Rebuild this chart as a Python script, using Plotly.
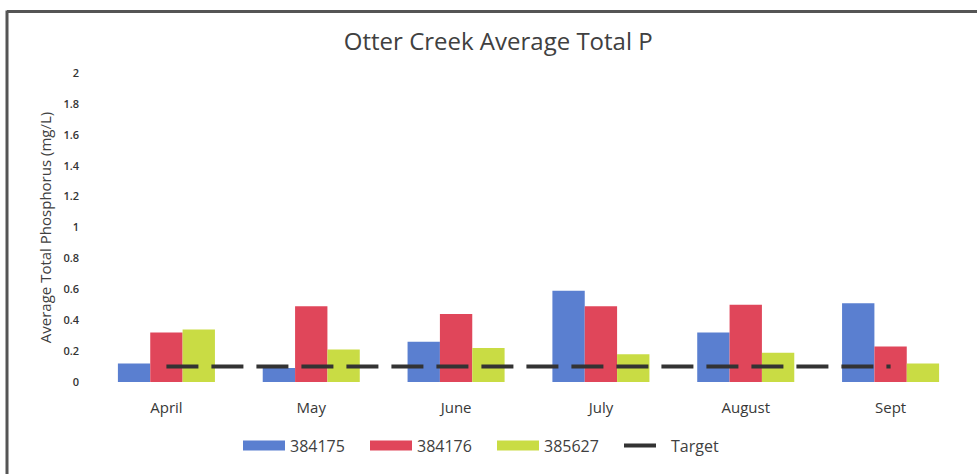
import plotly.graph_objects as go

months = ['April', 'May', 'June', 'July', 'August', 'Sept']
s384175 = [0.12, 0.09, 0.26, 0.59, 0.32, 0.51]
s384176 = [0.32, 0.49, 0.44, 0.49, 0.50, 0.23]
s385627 = [0.34, 0.21, 0.22, 0.18, 0.19, 0.12]
target = [0.1, 0.1, 0.1, 0.1, 0.1, 0.1]

colors = {'384175': '#5a7fd0', '384176': '#e0465a', '385627': '#c9dc44'}
font = 'Open Sans'

L, R, T, B = 94, 14, 73, 80
pw, ph = 977 - L - R, 474 - T - B

fig = go.Figure()
for name, vals in [('384175', s384175), ('384176', s384176), ('385627', s385627)]:
    fig.add_bar(x=months, y=vals, name=name, marker_color=colors[name],
                marker_line_width=0, showlegend=False)
    # wide swatch for the legend, like the original
    fig.add_scatter(x=[None], y=[None], mode='lines', name=name,
                    line=dict(color=colors[name], width=11))

fig.add_scatter(x=months, y=target, mode='lines', name='Target',
                line=dict(color='#333333', width=4, dash='32px,13px'))

fig.update_layout(
    width=977, height=474,
    margin=dict(l=L, r=R, t=T, b=B),
    paper_bgcolor='white', plot_bgcolor='white',
    barmode='group', bargap=0.33, bargroupgap=0,
    font=dict(family=font, color='#404040'),
    title=dict(text='Otter Creek Average Total P', x=0.51, xanchor='center',
               y=1 - 42 / 474, yanchor='middle',
               font=dict(size=24, color='#404040')),
    xaxis=dict(showgrid=False, showline=False, ticks='',
               tickfont=dict(size=15, color='#383838', weight=500),
               ticklabelstandoff=15, automargin=False),
    yaxis=dict(range=[0, 2], dtick=0.2, showgrid=False, zeroline=False,
               showline=False, ticks='', tickfont=dict(size=11, color='#333333', weight=600),
               ticklabelstandoff=14, automargin=False,
               title=dict(text='Average Total Phosphorus (mg/L)', standoff=8,
                          font=dict(size=15, color='#404040'))),
    legend=dict(orientation='h', x=(492 - L) / pw, xanchor='center',
                y=-66 / ph, yanchor='middle',
                font=dict(size=16, color='#404040'), itemwidth=42, traceorder='normal',
                entrywidth=70),
    shapes=[
        dict(type='line', xref='paper', yref='paper', x0=-(L - 7) / pw, x1=1.1,
             y0=1 + (T - 9) / ph, y1=1 + (T - 9) / ph, line=dict(color='#555555', width=3)),
        dict(type='line', xref='paper', yref='paper', x0=-(L - 7) / pw, x1=-(L - 7) / pw,
             y0=1 + (T - 8) / ph, y1=-0.3, line=dict(color='#555555', width=3)),
    ],
)

page_fix = ("document.documentElement.style.overflow='hidden';"
            "document.body.style.margin='0';document.body.style.overflow='hidden';")
fig.write_html('out.html', config={'displayModeBar': False}, post_script=page_fix)
